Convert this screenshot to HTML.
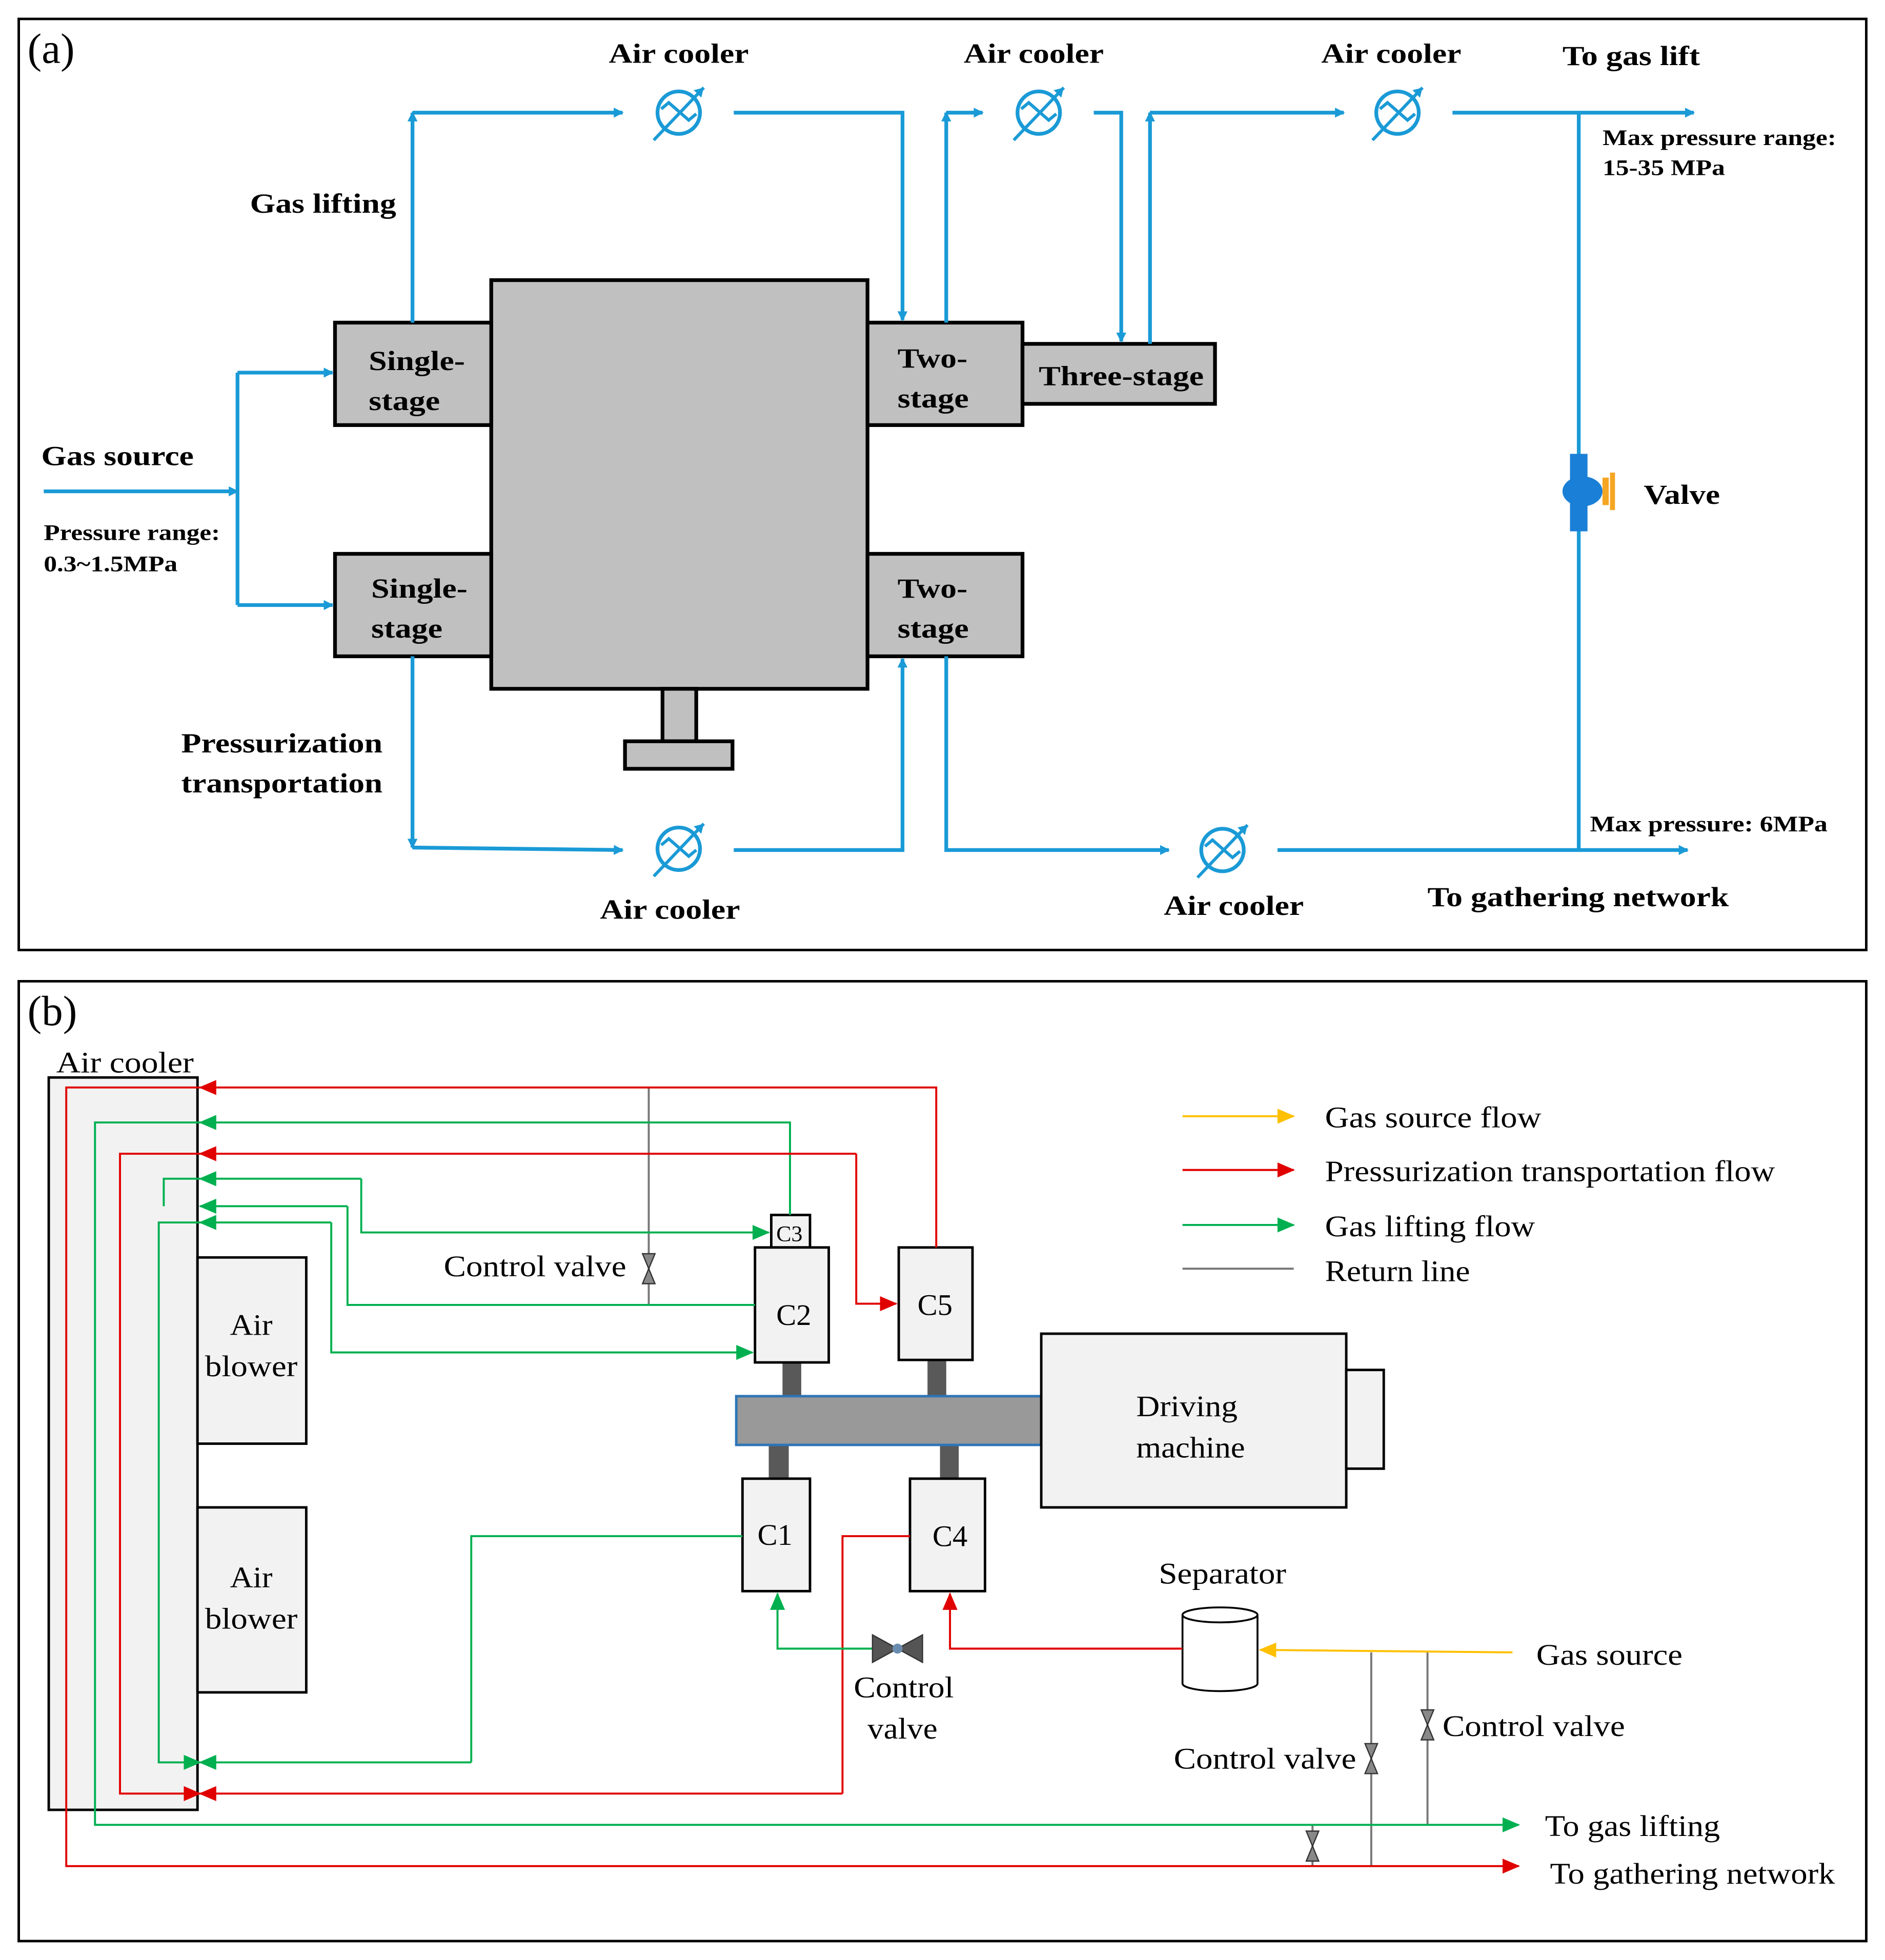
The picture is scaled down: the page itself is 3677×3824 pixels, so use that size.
<!DOCTYPE html>
<html><head><meta charset="utf-8"><style>
html,body{margin:0;padding:0;background:#fff}
svg{display:block}
svg text{font-family:"Liberation Serif","Times New Roman",serif}
</style></head><body>
<svg width="3677" height="3824" viewBox="0 0 1508 1568" xmlns="http://www.w3.org/2000/svg" font-family="Liberation Serif, serif">
<defs>
<marker id="ab" markerWidth="8" markerHeight="8" refX="7" refY="4" orient="auto" markerUnits="userSpaceOnUse"><path d="M0,0 L8,4 L0,8 Z" fill="#1a9ad6"/></marker>
<marker id="ar" markerWidth="14" markerHeight="12" refX="13" refY="6" orient="auto" markerUnits="userSpaceOnUse"><path d="M0,0 L14,6 L0,12 Z" fill="#e00000"/></marker>
<marker id="ag" markerWidth="14" markerHeight="12" refX="13" refY="6" orient="auto" markerUnits="userSpaceOnUse"><path d="M0,0 L14,6 L0,12 Z" fill="#00b050"/></marker>
<marker id="ay" markerWidth="14" markerHeight="12" refX="13" refY="6" orient="auto" markerUnits="userSpaceOnUse"><path d="M0,0 L14,6 L0,12 Z" fill="#ffc000"/></marker>
<g id="cool"><circle r="17" fill="none" stroke="#1a9ad6" stroke-width="3"/><path d="M-14,-3 L-8,-8 L8,6 L14,1" fill="none" stroke="#1a9ad6" stroke-width="2.5"/><path d="M-20,22 L20,-20" stroke="#1a9ad6" stroke-width="2.5"/><path d="M20,-20 l-8,2 l6,6 z" fill="#1a9ad6"/></g>
<g id="vv"><path d="M-5,-12 L5,-12 L-5,12 L5,12 Z" fill="#888" stroke="#333" stroke-width="1"/></g>
</defs>
<rect width="1508" height="1568" fill="#fff"/>
<!-- Panel A -->
<rect x="15" y="15" width="1478" height="745" fill="none" stroke="#000" stroke-width="2"/>
<text x="22" y="50" font-size="34">(a)</text>
<rect x="393" y="224" width="301" height="327" fill="#c0c0c0" stroke="#000" stroke-width="3"/>
<rect x="268" y="258" width="125" height="82" fill="#c0c0c0" stroke="#000" stroke-width="3"/>
<rect x="268" y="443" width="125" height="82" fill="#c0c0c0" stroke="#000" stroke-width="3"/>
<rect x="694" y="258" width="124" height="82" fill="#c0c0c0" stroke="#000" stroke-width="3"/>
<rect x="694" y="443" width="124" height="82" fill="#c0c0c0" stroke="#000" stroke-width="3"/>
<rect x="818" y="275" width="154" height="48" fill="#c0c0c0" stroke="#000" stroke-width="3"/>
<rect x="530" y="551" width="27" height="42" fill="#c0c0c0" stroke="#000" stroke-width="3"/>
<rect x="500" y="593" width="86" height="22" fill="#c0c0c0" stroke="#000" stroke-width="3"/>
<g stroke="#1a9ad6" stroke-width="3" fill="none">
<path d="M35,393 H190" marker-end="url(#ab)"/>
<path d="M190,298 V484"/>
<path d="M190,298 H266" marker-end="url(#ab)"/>
<path d="M190,484 H266" marker-end="url(#ab)"/>
<path d="M330,258 V90" marker-end="url(#ab)"/>
<path d="M330,90 H498" marker-end="url(#ab)"/>
<path d="M587,90 H722 V256" marker-end="url(#ab)"/>
<path d="M757,258 V90" marker-end="url(#ab)"/>
<path d="M757,90 H786" marker-end="url(#ab)"/>
<path d="M875,90 H897 V273" marker-end="url(#ab)"/>
<path d="M920,275 V90" marker-end="url(#ab)"/>
<path d="M920,90 H1075" marker-end="url(#ab)"/>
<path d="M1162,90 H1355" marker-end="url(#ab)"/>
<path d="M1263,90 V680"/>
<path d="M1022,680 H1350" marker-end="url(#ab)"/>
<path d="M330,525 V678" marker-end="url(#ab)"/>
<path d="M330,678 L498,680" marker-end="url(#ab)"/>
<path d="M587,680 H722 V527" marker-end="url(#ab)"/>
<path d="M757,525 V680 H935" marker-end="url(#ab)"/>
</g>
<use href="#cool" x="543" y="90"/><use href="#cool" x="831" y="90"/><use href="#cool" x="1118" y="90"/>
<use href="#cool" x="543" y="679"/><use href="#cool" x="978" y="680"/>
<rect x="1256" y="363" width="14" height="62" fill="#1a7fd6"/>
<ellipse cx="1266" cy="393" rx="16" ry="12" fill="#1a7fd6"/>
<rect x="1282" y="382" width="5" height="22" fill="#f5a623"/><rect x="1288" y="378" width="4" height="30" fill="#f5a623"/>
<g font-weight="bold" font-size="22" lengthAdjust="spacingAndGlyphs">
<text x="487" y="50" textLength="112" lengthAdjust="spacingAndGlyphs">Air cooler</text>
<text x="771" y="50" textLength="112" lengthAdjust="spacingAndGlyphs">Air cooler</text>
<text x="1057" y="50" textLength="112" lengthAdjust="spacingAndGlyphs">Air cooler</text>
<text x="1250" y="52" textLength="110" lengthAdjust="spacingAndGlyphs">To gas lift</text>
<text x="200" y="170" textLength="117" lengthAdjust="spacingAndGlyphs">Gas lifting</text>
<text x="295" y="296" textLength="77" lengthAdjust="spacingAndGlyphs">Single-</text>
<text x="295" y="328" textLength="57" lengthAdjust="spacingAndGlyphs">stage</text>
<text x="297" y="478" textLength="77" lengthAdjust="spacingAndGlyphs">Single-</text>
<text x="297" y="510" textLength="57" lengthAdjust="spacingAndGlyphs">stage</text>
<text x="718" y="294" textLength="56" lengthAdjust="spacingAndGlyphs">Two-</text>
<text x="718" y="326" textLength="57" lengthAdjust="spacingAndGlyphs">stage</text>
<text x="718" y="478" textLength="56" lengthAdjust="spacingAndGlyphs">Two-</text>
<text x="718" y="510" textLength="57" lengthAdjust="spacingAndGlyphs">stage</text>
<text x="831" y="308" textLength="132" lengthAdjust="spacingAndGlyphs">Three-stage</text>
<text x="33" y="372" textLength="122" lengthAdjust="spacingAndGlyphs">Gas source</text>
<text x="1315" y="403" textLength="61" lengthAdjust="spacingAndGlyphs">Valve</text>
<text x="145" y="602" textLength="161" lengthAdjust="spacingAndGlyphs">Pressurization</text>
<text x="145" y="634" textLength="161" lengthAdjust="spacingAndGlyphs">transportation</text>
<text x="480" y="735" textLength="112" lengthAdjust="spacingAndGlyphs">Air cooler</text>
<text x="931" y="732" textLength="112" lengthAdjust="spacingAndGlyphs">Air cooler</text>
<text x="1142" y="725" textLength="241" lengthAdjust="spacingAndGlyphs">To gathering network</text>
</g>
<g font-weight="bold" font-size="18">
<text x="35" y="432" textLength="141" lengthAdjust="spacingAndGlyphs">Pressure range:</text>
<text x="35" y="457" textLength="107" lengthAdjust="spacingAndGlyphs">0.3~1.5MPa</text>
<text x="1282" y="116" textLength="187" lengthAdjust="spacingAndGlyphs">Max pressure  range:</text>
<text x="1282" y="140" textLength="98" lengthAdjust="spacingAndGlyphs">15-35 MPa</text>
<text x="1272" y="665" textLength="190" lengthAdjust="spacingAndGlyphs">Max pressure:  6MPa</text>
</g>
<!-- Panel B -->
<rect x="15" y="785" width="1478" height="768" fill="none" stroke="#000" stroke-width="2"/>
<text x="22" y="820" font-size="34">(b)</text>
<rect x="39" y="862" width="119" height="586" fill="#f2f2f2" stroke="#000" stroke-width="2"/>
<rect x="158" y="1006" width="87" height="149" fill="#f2f2f2" stroke="#000" stroke-width="2"/>
<rect x="158" y="1206" width="87" height="148" fill="#f2f2f2" stroke="#000" stroke-width="2"/>
<rect x="626" y="1090" width="15" height="27" fill="#595959"/>
<rect x="742" y="1088" width="15" height="29" fill="#595959"/>
<rect x="615" y="1156" width="16" height="27" fill="#595959"/>
<rect x="752" y="1156" width="15" height="27" fill="#595959"/>
<rect x="589" y="1117" width="244" height="39" fill="#999" stroke="#2e75b6" stroke-width="2"/>
<rect x="617" y="972" width="31" height="26" fill="#f2f2f2" stroke="#000" stroke-width="2"/>
<rect x="604" y="998" width="59" height="92" fill="#f2f2f2" stroke="#000" stroke-width="2"/>
<rect x="719" y="998" width="59" height="90" fill="#f2f2f2" stroke="#000" stroke-width="2"/>
<rect x="594" y="1183" width="54" height="90" fill="#f2f2f2" stroke="#000" stroke-width="2"/>
<rect x="728" y="1183" width="60" height="90" fill="#f2f2f2" stroke="#000" stroke-width="2"/>
<rect x="833" y="1067" width="244" height="139" fill="#f2f2f2" stroke="#000" stroke-width="2"/>
<rect x="1077" y="1096" width="30" height="79" fill="#f2f2f2" stroke="#000" stroke-width="2"/>
<path d="M946,1292 V1347 A30,6 0 0 0 1006,1347 V1292" fill="#fff" stroke="#000" stroke-width="1.5"/>
<ellipse cx="976" cy="1292" rx="30" ry="6" fill="#fff" stroke="#000" stroke-width="1.5"/>
<g fill="none" stroke-width="1.6">
<path d="M519,870 V1044" stroke="#777"/>
<path d="M1097,1322 V1493" stroke="#777"/>
<path d="M1142,1322 V1460" stroke="#777"/>
<path d="M1050,1460 V1493" stroke="#777"/>
<path d="M749,998 V870 H160" stroke="#e00000" marker-end="url(#ar)"/>
<path d="M160,870 H53 V1493 H1215" stroke="#e00000" marker-end="url(#ar)"/>
<path d="M632,972 V898 H160" stroke="#00b050" marker-end="url(#ag)"/>
<path d="M160,898 H76 V1460 H1215" stroke="#00b050" marker-end="url(#ag)"/>
<path d="M160,923 H96 V1435 H160" stroke="#e00000" marker-end="url(#ar)"/>
<path d="M685,923 H160" stroke="#e00000" marker-end="url(#ar)"/>
<path d="M685,923 V1043 H717" stroke="#e00000" marker-end="url(#ar)"/>
<path d="M674,1435 H160" stroke="#e00000" marker-end="url(#ar)"/>
<path d="M674,1435 V1229 H728" stroke="#e00000"/>
<path d="M289,943 H160" stroke="#00b050" marker-end="url(#ag)"/>
<path d="M289,943 V986 H615" stroke="#00b050" marker-end="url(#ag)"/>
<path d="M160,943 H131 V965" stroke="#00b050"/>
<path d="M278,965 H160" stroke="#00b050" marker-end="url(#ag)"/>
<path d="M278,965 V1044 H604" stroke="#00b050"/>
<path d="M265,978 H160" stroke="#00b050" marker-end="url(#ag)"/>
<path d="M265,978 V1082 H602" stroke="#00b050" marker-end="url(#ag)"/>
<path d="M160,978 H127 V1410 H160" stroke="#00b050" marker-end="url(#ag)"/>
<path d="M377,1410 H160" stroke="#00b050" marker-end="url(#ag)"/>
<path d="M377,1410 V1229 H594" stroke="#00b050"/>
<path d="M946,1319 H760 V1275" stroke="#e00000" marker-end="url(#ar)"/>
<path d="M698,1319 H622 V1275" stroke="#00b050" marker-end="url(#ag)"/>
<path d="M1210,1322 L1008,1320" stroke="#ffc000" marker-end="url(#ay)"/>
<path d="M946,893 H1035" stroke="#ffc000" marker-end="url(#ay)"/>
<path d="M946,936 H1035" stroke="#e00000" marker-end="url(#ar)"/>
<path d="M946,980 H1035" stroke="#00b050" marker-end="url(#ag)"/>
<path d="M946,1015 H1035" stroke="#777"/>
</g>
<use href="#vv" x="519" y="1015"/><use href="#vv" x="1097" y="1407"/><use href="#vv" x="1142" y="1380"/><use href="#vv" x="1050" y="1477"/>
<path d="M698,1308 L738,1330 L738,1308 L698,1330 Z" fill="#555" stroke="#333"/>
<circle cx="718" cy="1319" r="4" fill="#6a8caf"/>
<g font-size="24">
<text x="45" y="858" textLength="110" lengthAdjust="spacingAndGlyphs">Air cooler</text>
<text x="184" y="1068" textLength="34" lengthAdjust="spacingAndGlyphs">Air</text>
<text x="164" y="1101" textLength="74" lengthAdjust="spacingAndGlyphs">blower</text>
<text x="184" y="1270" textLength="34" lengthAdjust="spacingAndGlyphs">Air</text>
<text x="164" y="1303" textLength="74" lengthAdjust="spacingAndGlyphs">blower</text>
<text x="621" y="993" font-size="18">C3</text>
<text x="621" y="1060">C2</text><text x="734" y="1052">C5</text>
<text x="606" y="1236">C1</text><text x="746" y="1237">C4</text>
<text x="909" y="1133" textLength="81" lengthAdjust="spacingAndGlyphs">Driving</text>
<text x="909" y="1166" textLength="87" lengthAdjust="spacingAndGlyphs">machine</text>
<text x="927" y="1267" textLength="102" lengthAdjust="spacingAndGlyphs">Separator</text>
<text x="1060" y="902" textLength="173" lengthAdjust="spacingAndGlyphs">Gas source flow</text>
<text x="1060" y="945" textLength="360" lengthAdjust="spacingAndGlyphs">Pressurization transportation flow</text>
<text x="1060" y="989" textLength="168" lengthAdjust="spacingAndGlyphs">Gas lifting flow</text>
<text x="1060" y="1025" textLength="116" lengthAdjust="spacingAndGlyphs">Return line</text>
<text x="355" y="1021" textLength="146" lengthAdjust="spacingAndGlyphs">Control valve</text>
<text x="683" y="1358" textLength="80" lengthAdjust="spacingAndGlyphs">Control</text>
<text x="694" y="1391" textLength="56" lengthAdjust="spacingAndGlyphs">valve</text>
<text x="1229" y="1332" textLength="117" lengthAdjust="spacingAndGlyphs">Gas source</text>
<text x="1154" y="1389" textLength="146" lengthAdjust="spacingAndGlyphs">Control valve</text>
<text x="939" y="1415" textLength="146" lengthAdjust="spacingAndGlyphs">Control valve</text>
<text x="1236" y="1469" textLength="140" lengthAdjust="spacingAndGlyphs">To gas lifting</text>
<text x="1240" y="1507" textLength="228" lengthAdjust="spacingAndGlyphs">To gathering network</text>
</g>
</svg>
</body></html>
